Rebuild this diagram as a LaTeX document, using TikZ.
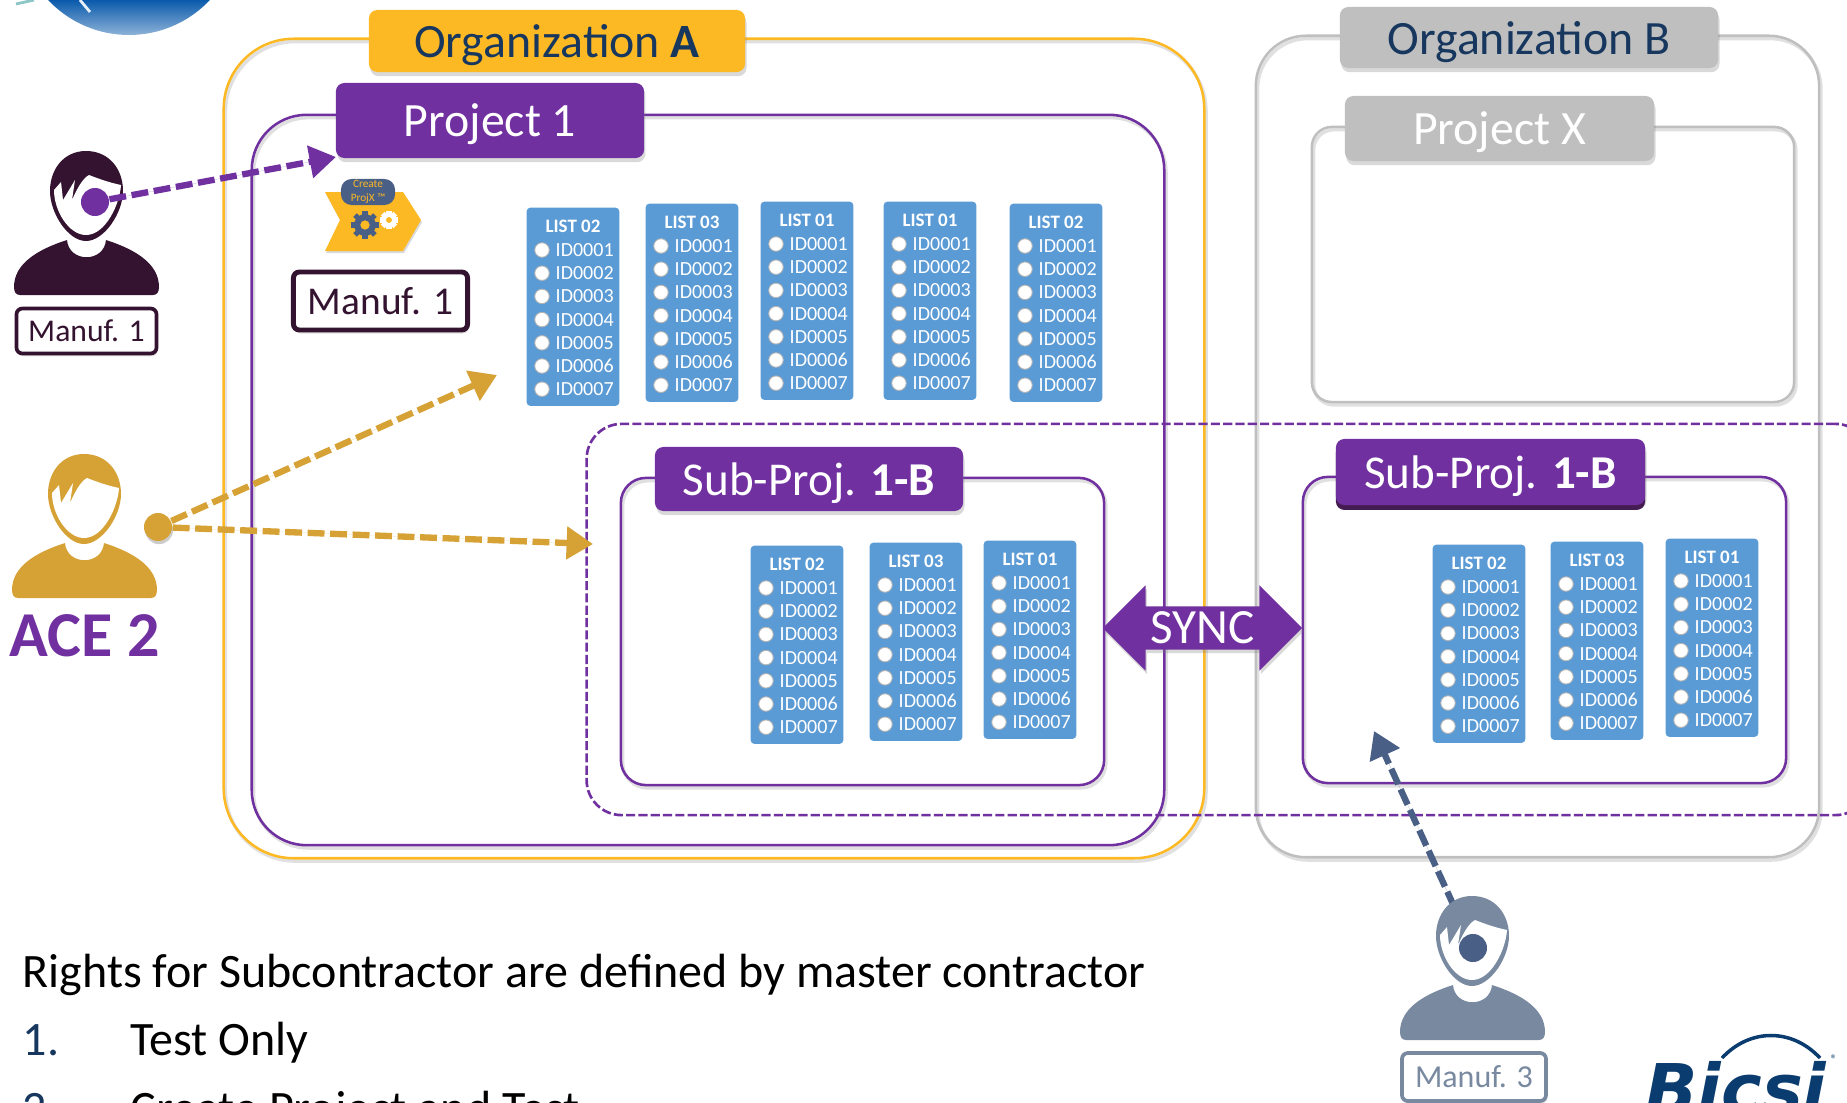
\documentclass[tikz,border=0pt]{standalone}
\usepackage{fontspec}
\setmainfont{Carlito}
\newfontfamily\logofont{DejaVu Sans}
\usetikzlibrary{shapes.arrows,shadows,arrows.meta}
\definecolor{projpurple}{HTML}{7030A0}
\definecolor{orgorange}{HTML}{FDB924}
\definecolor{acegold}{HTML}{D6A235}
\definecolor{darkplum}{HTML}{33132F}
\definecolor{orggray}{HTML}{BFBFBF}
\definecolor{navytext}{HTML}{17375E}
\definecolor{slateblue}{HTML}{4A5F85}
\definecolor{mangray}{HTML}{7889A0}
\definecolor{listblue}{HTML}{5B9BD5}
\definecolor{logoblue}{HTML}{0B3C6F}
\definecolor{globeblue}{HTML}{0A5AAB}

\begin{document}
\begin{tikzpicture}[x=0.01cm,y=-0.01cm]
  \tikzset{frame/.style = {shape=rectangle,draw,line width=0.72pt,inner sep=0pt,
      preaction={draw=black!12,line width=1pt,transform canvas={xshift=0.5pt,yshift=-0.8pt}}}}
  \tikzset{tab/.style = {shape=rectangle,rounded corners=2.4pt,inner sep=0pt,text depth=0pt,font=\fontsize{13.6}{15}\selectfont,
      drop shadow={shadow xshift=0.4pt,shadow yshift=-1.2pt,opacity=0.3}}}
  \tikzset{listbox/.style = {shape=rectangle,fill=listblue,rounded corners=1pt,inner sep=0pt,
      minimum width=0.925cm,minimum height=1.98cm,anchor=north west}}
  \tikzset{idrow/.style = {text=white,inner sep=0pt,anchor=west,font=\fontsize{5.7}{7}\selectfont}}
  \tikzset{listhead/.style = {text=white,inner sep=0pt,font=\bfseries\fontsize{5.4}{7}\selectfont}}
  \tikzset{radio/.style = {shape=circle,fill=white,draw=black!30,line width=0.25pt,minimum size=0.145cm,inner sep=0pt}}
  \tikzset{eye/.style = {shape=circle,minimum size=0.28cm,inner sep=0pt}}
  \tikzset{tag/.style = {shape=rectangle,fill=white,rounded corners=1.7pt,inner sep=0pt}}
  \tikzset{rights/.style = {inner sep=0pt,anchor=base west,font=\fontsize{13.65}{15}\selectfont}}
  \tikzset{access/.style = {line width=1.8pt,dash pattern=on 4.8pt off 1.6pt,-{Triangle[length=7.5pt,width=9pt]}}}
  \tikzset{pics/person/.style = {code={
      \fill[#1] (36,40) .. controls (36,18) and (50,0) .. (72,0) .. controls (95,0) and (109,18) .. (109,40)
        .. controls (109,62) and (90,90) .. (72,90) .. controls (54,90) and (36,62) .. (36,40) -- cycle;
      \fill[white] (40,39) -- (47,31) -- (49,49) -- (61,29) -- (58,49) .. controls (63,38) and (68,28) .. (75,24)
        .. controls (85,28) and (97,32) .. (107,34) .. controls (106,52) and (92,84) .. (72,84)
        .. controls (55,84) and (40,60) .. (40,39) -- cycle;
      \fill[#1] (53,89) .. controls (25,98) and (0,112) .. (0,136) .. controls (0,141) and (2,144) .. (6,144) -- (139,144)
        .. controls (143,144) and (145,141) .. (145,136) .. controls (145,112) and (120,98) .. (92,89)
        .. controls (90,112) and (55,112) .. (53,89) -- cycle;
  }}}
  \tikzset{pics/gear/.style 2 args = {code={
      \foreach \a in {0,45,...,315}
        \draw[#1,line width=1.5pt] (0,0) -- (\a:#2);
      \fill[#1] (0,0) circle ({#2*0.78});
      \fill[orgorange] (0,0) circle ({#2*0.33});
  }}}

  \useasboundingbox (0,0) rectangle (1847,1103);

  \begin{scope}
    \clip (129,-76) circle (111);
    \shade[top color=globeblue,middle color=globeblue,bottom color=globeblue!45] (0,0) rectangle (300,36);
    \draw[white!85!listblue,line width=0.8pt] (80,0) -- (90,12);
  \end{scope}
  \draw[teal!45,line width=0.8pt] (16,4) -- (34,0);

  \node[frame,draw=orgorange,rounded corners=0.7cm,minimum width=9.8cm,minimum height=8.19cm] (orgA) at (714,448.5) {};
  \node[frame,draw=projpurple,rounded corners=0.55cm,minimum width=9.12cm,minimum height=7.3cm] (proj1) at (708,480) {};
  \node[frame,draw=orggray,rounded corners=0.5cm,minimum width=5.63cm,minimum height=8.21cm] (orgB) at (1537.5,446.5) {};
  \node[frame,draw=orggray,rounded corners=0.2cm,minimum width=4.82cm,minimum height=2.75cm] (projX) at (1553,264.5) {};
  \node[shape=rectangle,draw=projpurple,line width=0.75pt,dash pattern=on 2.6pt off 0.9pt,rounded corners=0.35cm,inner sep=0pt,minimum width=12.83cm,minimum height=3.91cm] (shared) at (1228.5,619.5) {};
  \node[frame,draw=projpurple,rounded corners=0.25cm,minimum width=4.83cm,minimum height=3.07cm] (subL) at (862.5,631.5) {};
  \node[frame,draw=projpurple,rounded corners=0.25cm,minimum width=4.83cm,minimum height=3.06cm] (subR) at (1544.5,630) {};

  \node[tab,fill=orgorange,text=navytext,minimum width=3.76cm,minimum height=0.62cm] (orgAtab) at (557,41) {Organization \textbf{A}};
  \node[tab,fill=projpurple,text=white,minimum width=3.08cm,minimum height=0.75cm] (proj1tab) at (490,120.5) {Project 1};
  \node[tab,fill=orggray,text=navytext,minimum width=3.78cm,minimum height=0.61cm] (orgBtab) at (1529,37.5) {Organization B};
  \node[tab,fill=orggray,text=white,minimum width=3.09cm,minimum height=0.65cm] (projXtab) at (1499.5,128.5) {Project X};
  \node[tab,fill=projpurple,text=white,minimum width=3.08cm,minimum height=0.64cm,font=\fontsize{13.4}{15}\selectfont] (subLtab) at (809,479) {Sub-Proj. \textbf{1-B}};
  \node[tab,fill=projpurple,text=white,minimum width=3.09cm,minimum height=0.66cm,font=\fontsize{13.4}{15}\selectfont,
    drop shadow={shadow xshift=0pt,shadow yshift=-1.4pt,opacity=1,fill=darkplum!70!projpurple}] (subRtab) at (1490.5,472) {Sub-Proj. \textbf{1-B}};

  \foreach \name/\x/\y/\title in {a/526/207/LIST 02,b/645/203/LIST 03,c/760/201/LIST 01,d/883/201/LIST 01,e/1009/203/LIST 02,
      f/750/545/LIST 02,g/869/542/LIST 03,h/983/540/LIST 01,
      i/1432/544/LIST 02,j/1550/541/LIST 03,k/1665/538/LIST 01} {
    \node[listbox] (\name) at (\x,\y) {};
    \node[listhead] (\name-head) at ({\x+47},{\y+19}) {\title};
    \foreach \i in {1,...,7} {
      \node[radio] (\name-r\i) at ({\x+16},{\y+43+23.2*(\i-1)}) {};
      \node[idrow] (\name-id\i) at ({\x+29},{\y+43+23.2*(\i-1)}) {ID000\i};
    }
  }

  % create projx icon
  \fill[orgorange,drop shadow={shadow xshift=0.3pt,shadow yshift=-0.6pt,opacity=0.3}] (325,192) -- (403,192) -- (421,220) -- (403,251) -- (325,251) -- (340,220) -- cycle;
  \node[shape=rectangle,rounded corners=3pt,fill=slateblue,text=orgorange,inner sep=0pt,minimum width=0.54cm,minimum height=0.26cm,align=center,
    font=\fontsize{3.2}{3.9}\selectfont] (createtab) at (368,192) {Create\\ProjX ™};
  \pic at (365,225) {gear={slateblue}{14}};
  \pic at (389,220) {gear={white}{9}};

  \node[tag,draw=darkplum,line width=1.4pt,text=darkplum,minimum width=1.74cm,minimum height=0.58cm,font=\fontsize{11.2}{14}\selectfont,
    drop shadow={shadow xshift=0.4pt,shadow yshift=-1pt,opacity=0.25}] (manuf1big) at (380.5,301) {Manuf. 1};

  \coordinate (eye3c) at (1473,948);
  \coordinate (tip4) at (1374,731);
  \draw[access,draw=slateblue,fill=slateblue] (eye3c) -- (tip4);

  \pic at (14,151) {person={darkplum}};
  \pic at (12,454) {person={acegold}};
  \pic at (1400,896) {person={mangray}};

  \node[tag,draw=darkplum,line width=1.05pt,text=darkplum,minimum width=1.4cm,minimum height=0.45cm,font=\fontsize{9}{10}\selectfont,
    drop shadow={shadow xshift=0.3pt,shadow yshift=-0.8pt,opacity=0.25}] (manuf1) at (86.5,331) {Manuf. 1};
  \node[tag,draw=mangray,line width=1.05pt,text=mangray,minimum width=1.44cm,minimum height=0.48cm,font=\fontsize{9.1}{10}\selectfont,
    drop shadow={shadow xshift=0.3pt,shadow yshift=-0.8pt,opacity=0.25}] (manuf3) at (1474,1077) {Manuf. 3};
  \node[inner sep=0pt,anchor=base west,text=projpurple,font=\bfseries\fontsize{18.2}{20}\selectfont] (ace) at (9,656) {ACE 2};

  \node[eye,fill=projpurple] (eye1) at (95,202) {};
  \node[eye,fill=acegold,drop shadow={shadow xshift=0.3pt,shadow yshift=-0.9pt,opacity=0.4}] (eye2) at (158,527) {};
  \node[eye,fill=slateblue] (eye3) at (eye3c) {};

  \coordinate (tip1) at (336,157);
  \coordinate (tip2) at (497,375);
  \coordinate (tip3) at (593,544);
  \draw[access,draw=projpurple,fill=projpurple] (eye1) -- (tip1);
  \draw[access,draw=acegold,fill=acegold] (eye2) -- (tip2);
  \draw[access,draw=acegold,fill=acegold] (eye2) -- (tip3);

  \node[shape=double arrow,fill=projpurple,text=white,inner xsep=0pt,inner ysep=1.4pt,text depth=0pt,
    double arrow head extend=0.21cm,double arrow tip angle=90,minimum width=0.84cm,minimum height=1.99cm,
    font=\fontsize{14}{16}\selectfont,drop shadow={shadow xshift=0.4pt,shadow yshift=-1pt,opacity=0.3}] (sync) at (1202.5,628) {SYNC};

  \node[rights] (rightsline) at (22,987) {Rights for Subcontractor are defined by master contractor};
  \node[rights,text=navytext] (num1) at (22,1055) {1.};
  \node[rights] (item1) at (130,1055) {Test Only};
  \node[rights,text=navytext] (num2) at (22,1124) {2.};
  \node[rights] (item2) at (130,1124) {Create Project and Test};

  \draw[logoblue,line width=1pt] (1722,1058) .. controls (1750,1028) and (1792,1028) .. (1820,1058);
  \node[inner sep=0pt,anchor=base west,text=logoblue,font=\logofont\bfseries\itshape\fontsize{19.5}{22}\selectfont] (bicsi) at (1645,1113) {Bicsi};
  \node[inner sep=0pt,text=logoblue,font=\fontsize{3.5}{4}\selectfont] (regmark) at (1834,1059) {®};
\end{tikzpicture}
\end{document}
